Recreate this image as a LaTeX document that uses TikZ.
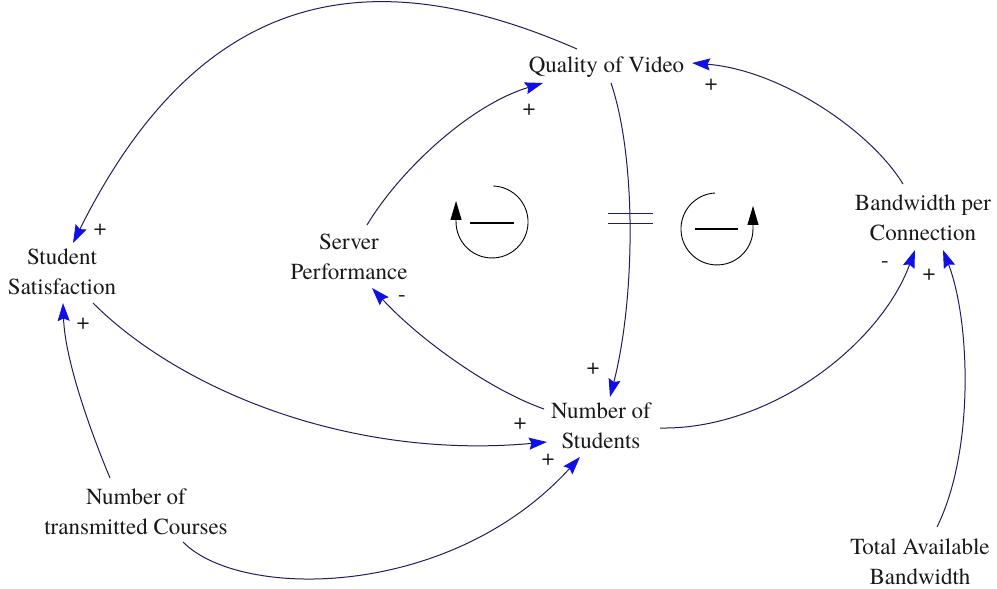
\documentclass[tikz,border=0pt]{standalone}
\usepackage{fontspec}
\setmainfont{texgyretermes-regular.otf}
\newfontfamily\diagfont{texgyretermes-regular.otf}
\usetikzlibrary{arrows.meta}
\definecolor{linkcol}{RGB}{30,30,95}
\definecolor{tipblue}{RGB}{15,15,230}
\definecolor{txt}{RGB}{25,25,25}
\tikzset{
  var/.style={inner sep=0pt, align=center, text=txt, font=\diagfont\fontsize{23}{30}\selectfont},
  pol/.style={inner sep=0pt, text=txt, text height=9pt, text depth=0pt, font=\diagfont\fontsize{23}{30}\selectfont},
  link/.style={draw=linkcol, line width=1pt, -{Stealth[length=18pt,width=12pt,inset=2.5pt,color=tipblue]}},
  looparc/.style={draw=black, line width=0.9pt, -{Triangle[length=19pt,width=11pt,color=black]}},
  loopbar/.style={draw=black, line width=2.8pt},
  delaymark/.style={draw=linkcol, line width=1pt}
}
\begin{document}
\begin{tikzpicture}[x=1pt,y=-1pt]
\useasboundingbox[fill=white] (0,0) rectangle (997,589);

% variables
\node[var] (qv)  at (606.5,67.5) {Quality of Video};
\node[var] (ss)  at (62,272)     {Student\\Satisfaction};
\node[var] (sp)  at (349,257)    {Server\\Performance};
\node[var] (bw)  at (923,217.5)  {Bandwidth per\\Connection};
\node[var] (ns)  at (601,426)    {Number of\\Students};
\node[var] (nc)  at (136,511.5)  {Number of\\transmitted Courses};
\node[var] (tab) at (920,562)    {Total Available\\Bandwidth};

% links
\draw[link] ([shift={(-29.5,-18.5)}]qv.center) .. controls (380,-37) and (205,-22) .. ([shift={(11,-29)}]ss.center);
\draw[link] ([shift={(18,-32)}]sp.center) .. controls (400,170) and (470,105) .. ([shift={(-63.5,15.5)}]qv.center);
\draw[link] ([shift={(4.5,15.5)}]qv.center) .. controls (637,160) and (635,300) .. ([shift={(9,-29)}]ns.center);
\draw[link] ([shift={(-20,-33.5)}]bw.center) .. controls (870,130) and (780,70) .. ([shift={(85.5,-4.5)}]qv.center);
\draw[link] ([shift={(-57,-17)}]ns.center) .. controls (490,390) and (420,340) .. ([shift={(23,31)}]sp.center);
\draw[link] ([shift={(31,31)}]ss.center) .. controls (180,390) and (350,460) .. ([shift={(-54,16)}]ns.center);
\draw[link] ([shift={(59,2)}]ns.center) .. controls (770,430) and (880,345) .. ([shift={(-8,32.5)}]bw.center);
\draw[link] ([shift={(17,-35)}]tab.center) .. controls (975,450) and (970,320) .. ([shift={(20,32.5)}]bw.center);
\draw[link] ([shift={(-26,-33.5)}]nc.center) .. controls (90,430) and (65,360) .. ([shift={(1,31)}]ss.center);
\draw[link] ([shift={(47,30.5)}]nc.center) .. controls (240,600) and (450,600) .. ([shift={(-21,31)}]ns.center);

% delay mark
\draw[delaymark] (608,213) -- (653,213);
\draw[delaymark] (608,223) -- (653,223);

% polarities
\node[pol] (p1)  at (100,231) {+};
\node[pol] (p2)  at (529,111) {+};
\node[pol] (p3)  at (593,370) {+};
\node[pol] (p4)  at (711,86)  {+};
\node[pol] (p5)  at (402,297) {-};
\node[pol] (p6)  at (520,425) {+};
\node[pol] (p7)  at (885,263) {-};
\node[pol] (p8)  at (929,276) {+};
\node[pol] (p9)  at (83,325)  {+};
\node[pol] (p10) at (548,461) {+};

% loop markers
\draw[looparc] (493.3,186) arc[start angle=-88, end angle=180, radius=36] -- ++(0,-21);
\draw[loopbar] (470,223) -- (514,223);
\draw[looparc] (715.1,193) arc[start angle=-93, end angle=-360, radius=36] -- ++(0,-23);
\draw[loopbar] (695,229) -- (738,229);
\end{tikzpicture}
\end{document}
